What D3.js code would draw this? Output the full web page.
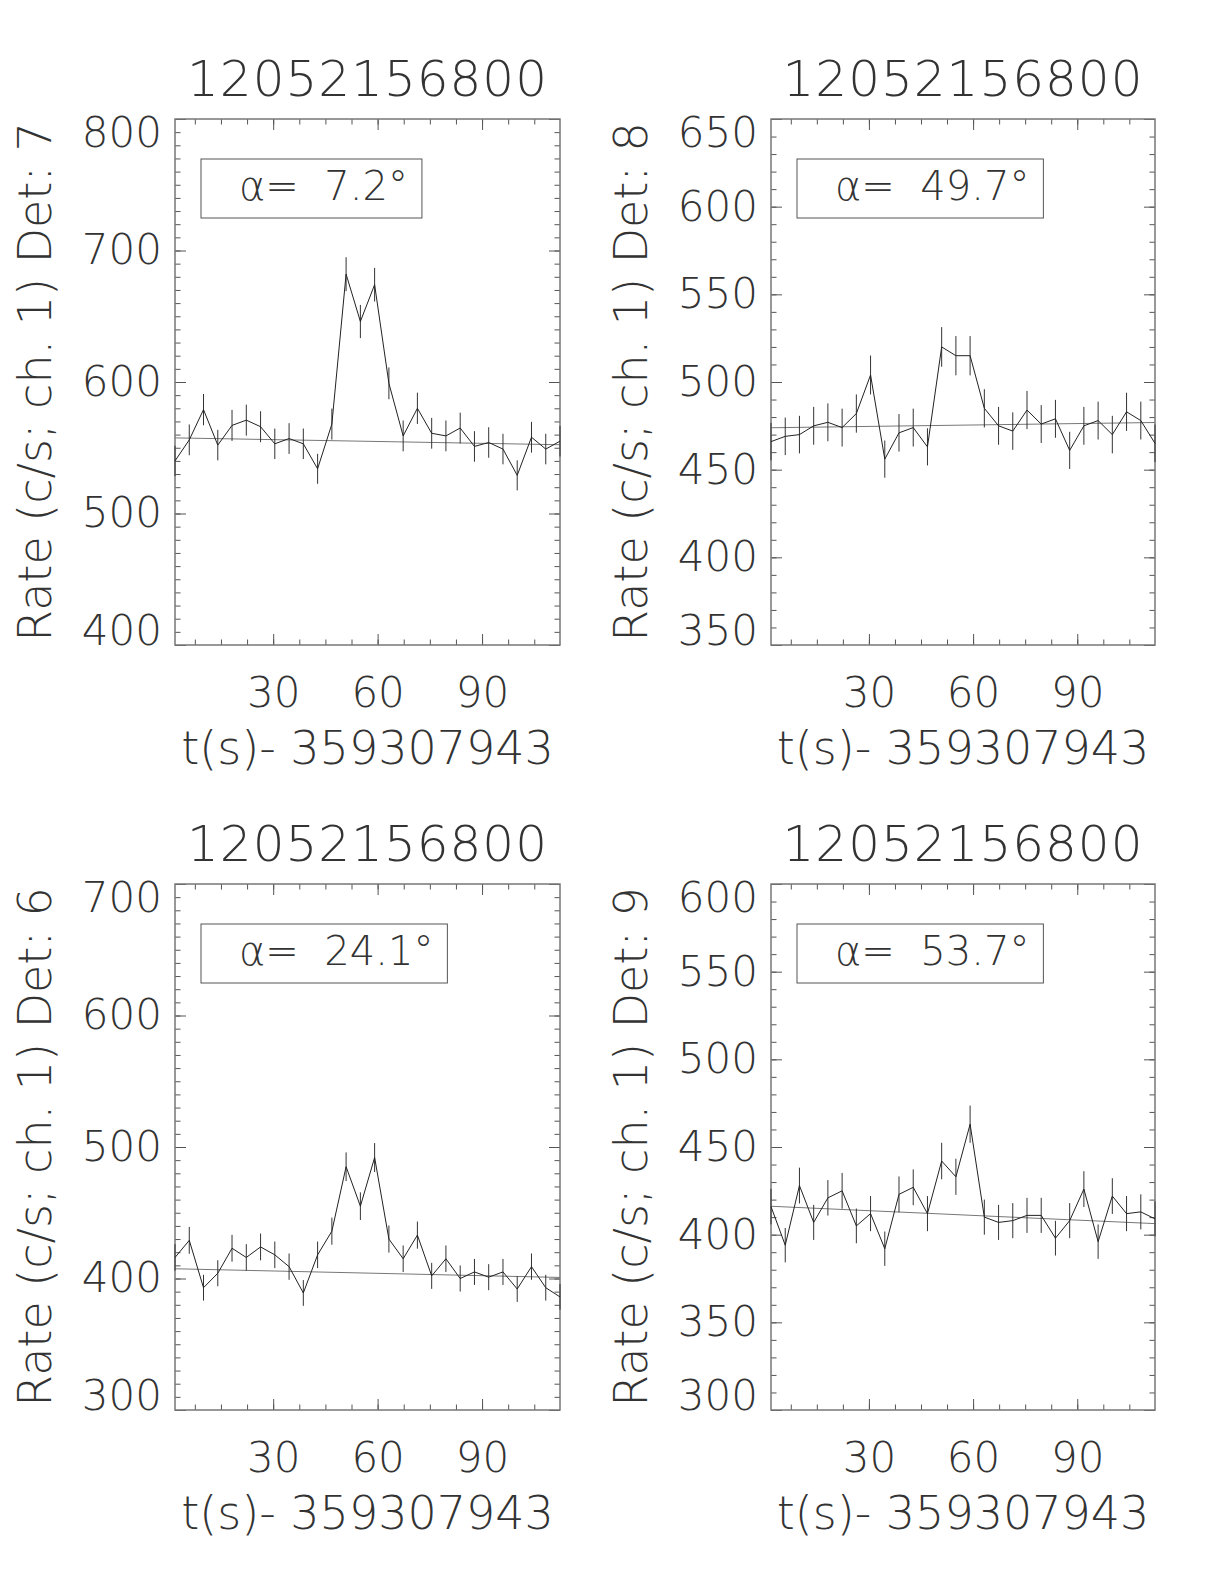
<!DOCTYPE html>
<html>
<head>
<meta charset="utf-8">
<script src="https://cdn.jsdelivr.net/npm/d3@7"></script>
<style>
  body { margin: 0; background: #fff; }
  svg text { font-family: "DejaVu Sans", sans-serif; font-weight: 200; fill: #333; }
</style>
</head>
<body>
<div id="chart"></div>
<script>
// bin start times, s after 359307943
var times = [1.80, 5.90, 9.99, 14.09, 18.18, 22.28, 26.38, 30.47, 34.57, 38.66,
  42.76, 46.86, 50.95, 55.05, 59.14, 63.24, 67.34, 71.43, 75.53, 79.62,
  83.72, 87.82, 91.91, 96.01, 100.10, 104.20, 108.30, 112.39];

// det 7
var det7 = [540, 556, 579, 552, 567, 571, 566, 553, 557, 553, 534, 568, 682, 646,
  674, 599, 559, 580, 561, 559, 565, 551, 554, 549, 529, 558, 549, 555];
var det7Err = [11.5, 11.7, 11.9, 11.6, 11.8, 11.8, 11.8, 11.6, 11.7, 11.6, 11.4, 11.8, 12.9, 12.6,
  12.8, 12.1, 11.7, 11.9, 11.7, 11.7, 11.7, 11.6, 11.6, 11.6, 11.4, 11.7, 11.6, 11.6];
var det7Bg = [557.5, 552.3];

// det 8
var det8 = [466, 469, 470, 475, 477, 474, 482, 504, 456, 471, 474, 463, 520, 515,
  515, 485, 475, 472, 484, 476, 479, 461, 475, 478, 470, 483, 478, 465];
var det8Err = [10.7, 10.7, 10.7, 10.8, 10.8, 10.8, 10.9, 11.1, 10.6, 10.7, 10.8, 10.6, 11.3, 11.2,
  11.2, 10.9, 10.8, 10.7, 10.9, 10.8, 10.8, 10.6, 10.8, 10.8, 10.7, 10.9, 10.8, 10.7];
var det8Bg = [473.9, 476.9];

// det 6
var det6 = [416, 429, 393, 404, 423, 416, 424, 418, 409, 389, 418, 436, 485, 455,
  492, 430, 415, 433, 402, 415, 400, 405, 401, 405, 392, 409, 393, 386];
var det6Err = [10.1, 10.2, 9.8, 9.9, 10.2, 10.1, 10.2, 10.1, 10.0, 9.8, 10.1, 10.3, 10.9, 10.5,
  11.0, 10.3, 10.1, 10.3, 9.9, 10.1, 9.9, 9.9, 9.9, 9.9, 9.8, 10.0, 9.8, 9.7];
var det6Bg = [407.4, 400.8];

// det 9
var det9 = [416, 394, 428, 407, 421, 425, 405, 412, 392, 423, 427, 412, 442, 433,
  463, 410, 407, 408, 411, 411, 398, 408, 426, 396, 422, 412, 413, 409];
var det9Err = [10.1, 9.8, 10.2, 10.0, 10.1, 10.2, 9.9, 10.0, 9.8, 10.2, 10.2, 10.0, 10.4, 10.3,
  10.6, 10.0, 10.0, 10.0, 10.0, 10.0, 9.9, 10.0, 10.2, 9.8, 10.2, 10.0, 10.0, 10.0];
var det9Bg = [416.2, 406.3];

var detNames = ["7", "8", "6", "9"];
var alphas = [7.2, 49.7, 24.1, 53.7];
var yRanges = [[400, 800], [350, 650], [300, 700], [300, 600]];
var yLabels = [[400, 500, 600, 700, 800], [350, 400, 450, 500, 550, 600, 650],
  [300, 400, 500, 600, 700], [300, 350, 400, 450, 500, 550, 600]];
var xLabels = [30, 60, 90];
var titleText = "12052156800";
var xTitle = "t(s)- 359307943";

var rates = [det7, det8, det6, det9];
var errs = [det7Err, det8Err, det6Err, det9Err];
var bgs = [det7Bg, det8Bg, det6Bg, det9Bg];

var W = 1224, H = 1584;
var cols = [[175, 560], [771, 1155]];
var rows = [[119, 645], [884, 1410]];

var svg = d3.select("#chart").append("svg")
    .attr("width", W)
    .attr("height", H);

svg.append("rect").attr("width", W).attr("height", H).attr("fill", "#fff");

rates.forEach(function(r, k) {
  var c = cols[k % 2], rw = rows[Math.floor(k / 2)];
  var w = c[1] - c[0], h = rw[1] - rw[0];

  var x = d3.scaleLinear()
    .domain([times[0], times[times.length - 1]])
    .range([0, w]);
  var y = d3.scaleLinear()
    .domain(yRanges[k])
    .range([h, 0]);

  var g = svg.append("g")
    .attr("transform", "translate(" + c[0] + "," + rw[0] + ")");

  var xMinor = d3.range(7.5, x.domain()[1], 7.5);
  var yMinor = d3.range(yRanges[k][0], yRanges[k][1] + 1, 10);

  // minor ticks, all four sides
  g.append("g").attr("transform", "translate(0," + h + ")")
    .call(d3.axisBottom(x).tickValues(xMinor).tickSize(-5.5).tickFormat(""));
  g.append("g")
    .call(d3.axisTop(x).tickValues(xMinor).tickSize(-5.5).tickFormat(""));
  g.append("g")
    .call(d3.axisLeft(y).tickValues(yMinor).tickSize(-5.5).tickFormat(""));
  g.append("g").attr("transform", "translate(" + w + ",0)")
    .call(d3.axisRight(y).tickValues(yMinor).tickSize(-5.5).tickFormat(""));

  // major ticks
  g.append("g").attr("transform", "translate(0," + h + ")")
    .call(d3.axisBottom(x).tickValues(xLabels).tickSize(-11).tickPadding(32));
  g.append("g")
    .call(d3.axisTop(x).tickValues(xLabels).tickSize(-11).tickFormat(""));
  var yl = g.append("g")
    .call(d3.axisLeft(y).tickValues(yLabels[k]).tickSize(-11).tickPadding(13));
  g.append("g").attr("transform", "translate(" + w + ",0)")
    .call(d3.axisRight(y).tickValues(yLabels[k]).tickSize(-11).tickFormat(""));

  g.selectAll(".domain").remove();
  g.selectAll(".tick line").attr("stroke", "#555").attr("stroke-width", 1);
  g.selectAll(".tick text")
    .attr("fill", "#333")
    .attr("font-family", null)
    .attr("font-size", null)
    .style("font-size", "42px");

  // end labels pulled inside the frame
  yl.selectAll(".tick text")
    .attr("y", function(d) {
      if (d === yRanges[k][1]) return 14;
      if (d === yRanges[k][0]) return -14;
      return 0;
    });

  // frame
  g.append("rect")
    .attr("width", w).attr("height", h)
    .attr("fill", "none")
    .attr("stroke", "#777")
    .attr("stroke-width", 1.5);

  // background fit
  g.append("line")
    .attr("x1", x(times[0])).attr("x2", x(times[times.length - 1]))
    .attr("y1", y(bgs[k][0])).attr("y2", y(bgs[k][1]))
    .attr("stroke", "#777")
    .attr("stroke-width", 1);

  // error bars
  g.selectAll(".err").data(r).enter().append("line")
    .attr("class", "err")
    .attr("x1", function(d, i) { return x(times[i]); })
    .attr("x2", function(d, i) { return x(times[i]); })
    .attr("y1", function(d, i) { return y(d - errs[k][i]); })
    .attr("y2", function(d, i) { return y(d + errs[k][i]); })
    .attr("stroke", "#333")
    .attr("stroke-width", 1);

  // rate curve
  var line = d3.line()
    .x(function(d, i) { return x(times[i]); })
    .y(function(d) { return y(d); });
  g.append("path")
    .datum(r)
    .attr("d", line)
    .attr("fill", "none")
    .attr("stroke", "#222")
    .attr("stroke-width", 1);

  // alpha box
  var bx = 26, by = 40;
  var box = g.append("rect")
    .attr("x", bx).attr("y", by)
    .attr("height", 59)
    .attr("fill", "none")
    .attr("stroke", "#555")
    .attr("stroke-width", 1);
  var t = g.append("text")
    .attr("x", bx + 38)
    .attr("y", by + 41)
    .style("font-size", "40px")
    .text("\u03b1=\u00a0\u00a0" + alphas[k].toFixed(1) + "\u00b0");
  box.attr("width", 38 + t.node().getComputedTextLength() + 14);

  // title
  g.append("text")
    .attr("x", w / 2).attr("y", -23)
    .attr("text-anchor", "middle")
    .style("font-size", "50px")
    .style("letter-spacing", "1px")
    .text(titleText);

  // x title
  g.append("text")
    .attr("x", w / 2).attr("y", h + 119)
    .attr("text-anchor", "middle")
    .style("font-size", "46px")
    .text(xTitle);

  // y title
  g.append("text")
    .attr("transform", "translate(-124," + (h / 2) + ") rotate(-90)")
    .attr("text-anchor", "middle")
    .style("font-size", "46px")
    .text("Rate (c/s; ch. 1) Det: " + detNames[k]);
});
</script>
</body>
</html>
